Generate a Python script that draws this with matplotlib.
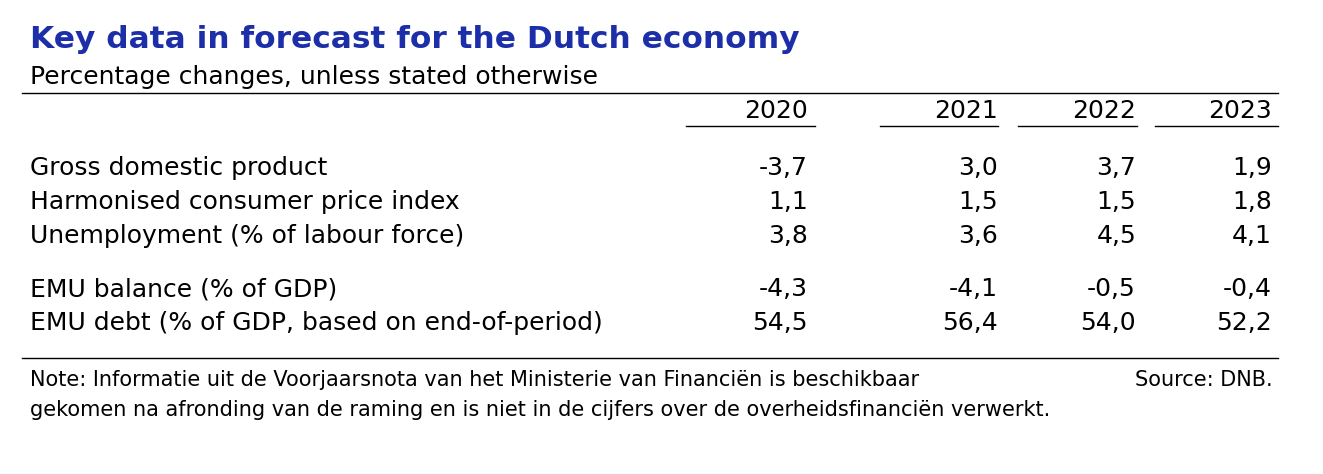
import matplotlib.pyplot as plt
from matplotlib.lines import Line2D

W, H = 1323, 474

years = ['2020', '2021', '2022', '2023']
labels = ['Gross domestic product', 'Harmonised consumer price index',
          'Unemployment (% of labour force)', 'EMU balance (% of GDP)',
          'EMU debt (% of GDP, based on end-of-period)']
values = [[-3.7, 3.0, 3.7, 1.9],
          [1.1, 1.5, 1.5, 1.8],
          [3.8, 3.6, 4.5, 4.1],
          [-4.3, -4.1, -0.5, -0.4],
          [54.5, 56.4, 54.0, 52.2]]

col_x = [808, 998, 1136, 1272]
col_under = [(686, 815), (880, 998), (1018, 1137), (1155, 1278)]
row_y = [168, 202, 236, 289, 323]

fig = plt.figure(figsize=(W / 100, H / 100), dpi=100)
plt.rcParams['font.family'] = ['DejaVu Sans']


def tx(x, y, s, **kw):
    fig.text(x / W, 1 - y / H, s, va='center', **kw)


def hline(x0, x1, y, lw=1.0):
    fig.add_artist(Line2D([x0 / W, x1 / W], [1 - y / H, 1 - y / H], color='black', lw=lw))


tx(30, 40, 'Key data in forecast for the Dutch economy', fontsize=22.5, fontweight='bold', color='#1c2fa8')
tx(30, 77, 'Percentage changes, unless stated otherwise', fontsize=18)
hline(22, 1278, 93)

for yr, x, (a, b) in zip(years, col_x, col_under):
    tx(x, 111, yr, fontsize=18, ha='right')
    hline(a, b, 126)

for lab, vals, y in zip(labels, values, row_y):
    tx(30, y, lab, fontsize=18)
    for v, x in zip(vals, col_x):
        tx(x, y, f'{v:.1f}'.replace('.', ','), fontsize=18, ha='right')

hline(22, 1278, 358)
tx(30, 380, 'Note: Informatie uit de Voorjaarsnota van het Ministerie van Financiën is beschikbaar', fontsize=15)
tx(30, 410, 'gekomen na afronding van de raming en is niet in de cijfers over de overheidsfinanciën verwerkt.', fontsize=15)
tx(1273, 380, 'Source: DNB.', fontsize=15, ha='right')

fig.savefig('out.png', dpi=100)
